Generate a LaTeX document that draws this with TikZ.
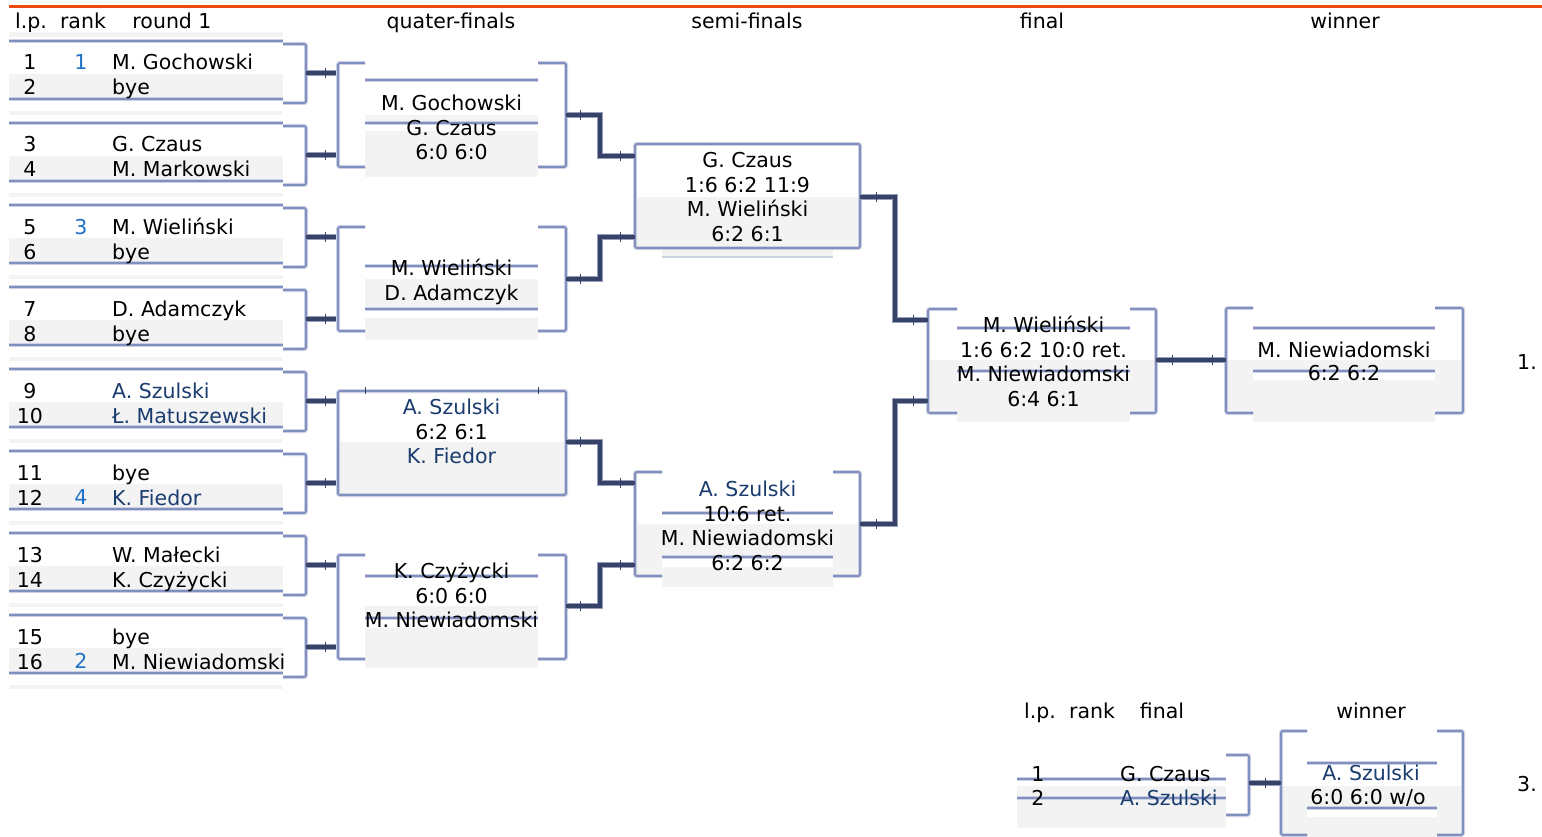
\documentclass[tikz,border=0pt]{standalone}
\usepackage{fontspec}
\setmainfont{DejaVu Sans}
\definecolor{bl}{RGB}{128,143,192}
\definecolor{blsh}{RGB}{205,210,226}
\definecolor{cn}{RGB}{55,66,104}
\definecolor{cnsh}{RGB}{150,158,186}
\definecolor{gr}{RGB}{243,243,243}
\definecolor{org}{RGB}{234,72,14}
\definecolor{rk}{RGB}{30,112,200}
\definecolor{nv}{RGB}{26,60,110}
\tikzset{
  brk/.style={draw=bl, line width=1.8pt, rounded corners=2pt,
    preaction={draw=blsh, line width=4pt}},
  ln/.style={draw=bl, line width=1.8pt, preaction={draw=blsh, line width=3.6pt}},
  conn/.style={draw=cn, line width=3.6pt, preaction={draw=cnsh, line width=6pt}},
  tk/.style={draw=cn, line width=1pt},
  txt/.style={inner sep=0pt, anchor=base, font=\fontsize{20.5}{24.5}\selectfont},
  txtl/.style={txt, anchor=base west}
}
\begin{document}
\begin{tikzpicture}[x=1pt,y=-1pt]
\path[use as bounding box] (0,0) rectangle (1542,837);
\fill[white] (0,0) rectangle (1542,837);
\draw[org, line width=3pt] (9,7) -- (1542,7);

% headers
\node[txt] (hlp) at (31,29) {l.p.};
\node[txt] (hrank) at (83,29) {rank};
\node[txt] (hr1) at (172,29) {round 1};
\node[txt] (hqf) at (451,29) {quater-finals};
\node[txt] (hsf) at (747,29) {semi-finals};
\node[txt] (hf) at (1042,29) {final};
\node[txt] (hw) at (1345,29) {winner};

% ---------- round 1 ----------
\fill[gr] (9,32) rectangle (283,37);
\foreach \na/\ca/\nb/\cb [count=\i from 0] in {
  M. Gochowski/black/bye/black,
  G. Czaus/black/M. Markowski/black,
  M. Wieliński/black/bye/black,
  D. Adamczyk/black/bye/black,
  A. Szulski/nv/Ł. Matuszewski/nv,
  bye/black/K. Fiedor/nv,
  W. Małecki/black/K. Czyżycki/black,
  bye/black/M. Niewiadomski/black}{
  \pgfmathsetmacro\T{41+82*\i}
  \pgfmathtruncatemacro\la{2*\i+1}
  \pgfmathtruncatemacro\lb{2*\i+2}
  \fill[gr] (9,\T+33) rectangle (283,\T+57);
  \fill[gr] (9,\T+70) rectangle (283,\T+74);
  \path[ln] (9,\T) -- (283,\T);
  \path[ln] (9,\T+58) -- (283,\T+58);
  \path[brk] (283,\T+3) -- (306,\T+3) -- (306,\T+62) -- (283,\T+62);
  \coordinate (r\i) at (306,\T+32);
  \coordinate (ql\i) at (338,\T+32);
  \draw[conn] (r\i) -- (ql\i);
  \draw[tk] (325,\T+27) -- (325,\T+37);
  \node[txt] (lpa\i) at (30,\T+29) {\la};
  \node[txt] (lpb\i) at (30,\T+54) {\lb};
  \node[txtl, text=\ca] (na\i) at (112,\T+29) {\na};
  \node[txtl, text=\cb] (nb\i) at (112,\T+54) {\nb};
}
% ranks
\node[txt, text=rk] (rk1) at (81,70) {1};
\node[txt, text=rk] (rk3) at (81,234) {3};
\node[txt, text=rk] (rk4) at (81,504) {4};
\node[txt, text=rk] (rk2) at (81,668) {2};

% ---------- quarter-finals ----------
% QF1
\fill[gr] (365,115) rectangle (538,177);
\fill[white] (365,125) rectangle (538,131);
\path[ln] (365,80) -- (538,80);
\path[ln] (365,123) -- (538,123);
\path[brk] (365,63) -- (338,63) -- (338,167) -- (365,167);
\path[brk] (538,63) -- (566,63) -- (566,167) -- (538,167);
\node[txt] (q1a) at (451.5,111) {M. Gochowski};
\node[txt] (q1b) at (451.5,135.5) {G. Czaus};
\node[txt] (q1c) at (451.5,160) {6:0 6:0};
% QF2
\fill[gr] (365,279) rectangle (538,340);
\fill[white] (365,311) rectangle (538,318);
\path[ln] (365,266) -- (538,266);
\path[ln] (365,309) -- (538,309);
\path[brk] (365,227) -- (338,227) -- (338,331) -- (365,331);
\path[brk] (538,227) -- (566,227) -- (566,331) -- (538,331);
\node[txt] (q2a) at (451.5,275) {M. Wieliński};
\node[txt] (q2b) at (451.5,300) {D. Adamczyk};
% QF3
\fill[gr] (338,442) rectangle (566,495);
\path[brk] (338,391) rectangle (566,495);
\draw[tk] (365,387) -- (365,394);
\draw[tk] (538,387) -- (538,394);
\node[txt, text=nv] (q3a) at (451.5,414) {A. Szulski};
\node[txt] (q3b) at (451.5,439) {6:2 6:1};
\node[txt, text=nv] (q3c) at (451.5,463.5) {K. Fiedor};
% QF4
\fill[gr] (365,606) rectangle (538,668);
\fill[white] (365,620) rectangle (538,628);
\path[ln] (365,576) -- (538,576);
\path[ln] (365,618) -- (538,618);
\path[brk] (365,555) -- (338,555) -- (338,659) -- (365,659);
\path[brk] (538,555) -- (566,555) -- (566,659) -- (538,659);
\node[txt] (q4a) at (451.5,578) {K. Czyżycki};
\node[txt] (q4b) at (451.5,603) {6:0 6:0};
\node[txt] (q4c) at (451.5,627) {M. Niewiadomski};

% ---------- semi-finals ----------
% SF1
\fill[gr] (635,197) rectangle (860,248);
\fill[gr] (662,248) rectangle (833,258);
\draw[blsh, line width=1.2pt] (662,257) -- (833,257);
\path[brk] (635,144) rectangle (860,248);
\node[txt] (s1a) at (747.5,168) {G. Czaus};
\node[txt] (s1b) at (747.5,192.5) {1:6 6:2 11:9};
\node[txt] (s1c) at (747.5,217) {M. Wieliński};
\node[txt] (s1d) at (747.5,241.5) {6:2 6:1};
% SF2
\fill[gr] (662,524) rectangle (833,587);
\fill[gr] (635,524) rectangle (860,576);
\fill[white] (662,559) rectangle (833,567);
\path[ln] (662,513) -- (833,513);
\path[ln] (662,557) -- (833,557);
\path[brk] (662,472) -- (635,472) -- (635,576) -- (662,576);
\path[brk] (833,472) -- (860,472) -- (860,576) -- (833,576);
\node[txt, text=nv] (s2a) at (747.5,496) {A. Szulski};
\node[txt] (s2b) at (747.5,521) {10:6 ret.};
\node[txt] (s2c) at (747.5,545) {M. Niewiadomski};
\node[txt] (s2d) at (747.5,570) {6:2 6:2};

% ---------- final ----------
\fill[gr] (957,360) rectangle (1130,422);
\fill[gr] (928,360) rectangle (1156,413);
\fill[white] (957,373) rectangle (1130,380);
\path[ln] (957,328) -- (1130,328);
\path[ln] (957,371) -- (1130,371);
\path[brk] (957,309) -- (928,309) -- (928,413) -- (957,413);
\path[brk] (1130,309) -- (1156,309) -- (1156,413) -- (1130,413);
\node[txt] (fa) at (1043.5,332) {M. Wieliński};
\node[txt] (fb) at (1043.5,357) {1:6 6:2 10:0 ret.};
\node[txt] (fc) at (1043.5,381) {M. Niewiadomski};
\node[txt] (fd) at (1043.5,406) {6:4 6:1};

% ---------- winner ----------
\fill[gr] (1253,360) rectangle (1435,422);
\fill[gr] (1226,360) rectangle (1463,413);
\fill[white] (1253,373) rectangle (1435,380);
\path[ln] (1253,328) -- (1435,328);
\path[ln] (1253,371) -- (1435,371);
\path[brk] (1253,308) -- (1226,308) -- (1226,413) -- (1253,413);
\path[brk] (1435,308) -- (1463,308) -- (1463,413) -- (1435,413);
\node[txt] (wa) at (1344,357) {M. Niewiadomski};
\node[txt] (wb) at (1344,380) {6:2 6:2};
\node[txt] (pl1) at (1527,369) {1.};

% ---------- connectors ----------
\coordinate (qr1) at (566,115);
\coordinate (qr2) at (566,279);
\coordinate (qr3) at (566,442);
\coordinate (qr4) at (566,606);
\coordinate (sl1) at (635,156);
\coordinate (sl2) at (635,237);
\coordinate (sl3) at (635,483);
\coordinate (sl4) at (635,565);
\coordinate (sr1) at (860,197);
\coordinate (sr2) at (860,524);
\coordinate (fl1) at (928,320);
\coordinate (fl2) at (928,401);
\coordinate (fr) at (1156,360);
\coordinate (wl) at (1226,360);
\draw[conn] (qr1) -- ++(34,0) |- (sl1);
\draw[conn] (qr2) -- ++(34,0) |- (sl2);
\draw[conn] (qr3) -- ++(34,0) |- (sl3);
\draw[conn] (qr4) -- ++(34,0) |- (sl4);
\draw[conn] (sr1) -- ++(35,0) |- (fl1);
\draw[conn] (sr2) -- ++(35,0) |- (fl2);
\draw[conn] (fr) -- (wl);
\foreach \y in {115,279,442,606}{\draw[tk] (580,\y-5) -- (580,\y+5);}
\foreach \y in {156,237,483,565}{\draw[tk] (620,\y-5) -- (620,\y+5);}
\foreach \y in {197,524}{\draw[tk] (876,\y-5) -- (876,\y+5);}
\foreach \y in {320,401}{\draw[tk] (913,\y-5) -- (913,\y+5);}
\draw[tk] (1172,355) -- (1172,365);
\draw[tk] (1212,355) -- (1212,365);

% ---------- third place ----------
\node[txt] (lhlp) at (1040,718) {l.p.};
\node[txt] (lhrank) at (1092,718) {rank};
\node[txt] (lhf) at (1162,718) {final};
\node[txt] (lhw) at (1371,718) {winner};
\fill[gr] (1017,786) rectangle (1226,828);
\path[ln] (1017,779) -- (1226,779);
\path[ln] (1017,798) -- (1226,798);
\path[brk] (1226,755) -- (1249,755) -- (1249,815) -- (1226,815);
\node[txt] (t1) at (1038,781) {1};
\node[txt] (t2) at (1038,805) {2};
\node[txtl] (t1n) at (1120,781) {G. Czaus};
\node[txtl, text=nv] (t2n) at (1120,805) {A. Szulski};
\fill[gr] (1307,786) rectangle (1437,837);
\fill[gr] (1281,786) rectangle (1463,835);
\fill[white] (1307,810) rectangle (1437,817);
\path[ln] (1307,763) -- (1437,763);
\path[ln] (1307,808) -- (1437,808);
\path[brk] (1307,731) -- (1281,731) -- (1281,835) -- (1307,835);
\path[brk] (1437,731) -- (1463,731) -- (1463,835) -- (1437,835);
\node[txt, text=nv] (lwa) at (1371,780) {A. Szulski};
\node[txt] (lwb) at (1368,804) {6:0 6:0 w/o};
\node[txt] (pl3) at (1527,791) {3.};
\coordinate (lr) at (1249,783);
\coordinate (lwl) at (1281,783);
\draw[conn] (lr) -- (lwl);
\draw[tk] (1265,778) -- (1265,788);
\end{tikzpicture}
\end{document}
